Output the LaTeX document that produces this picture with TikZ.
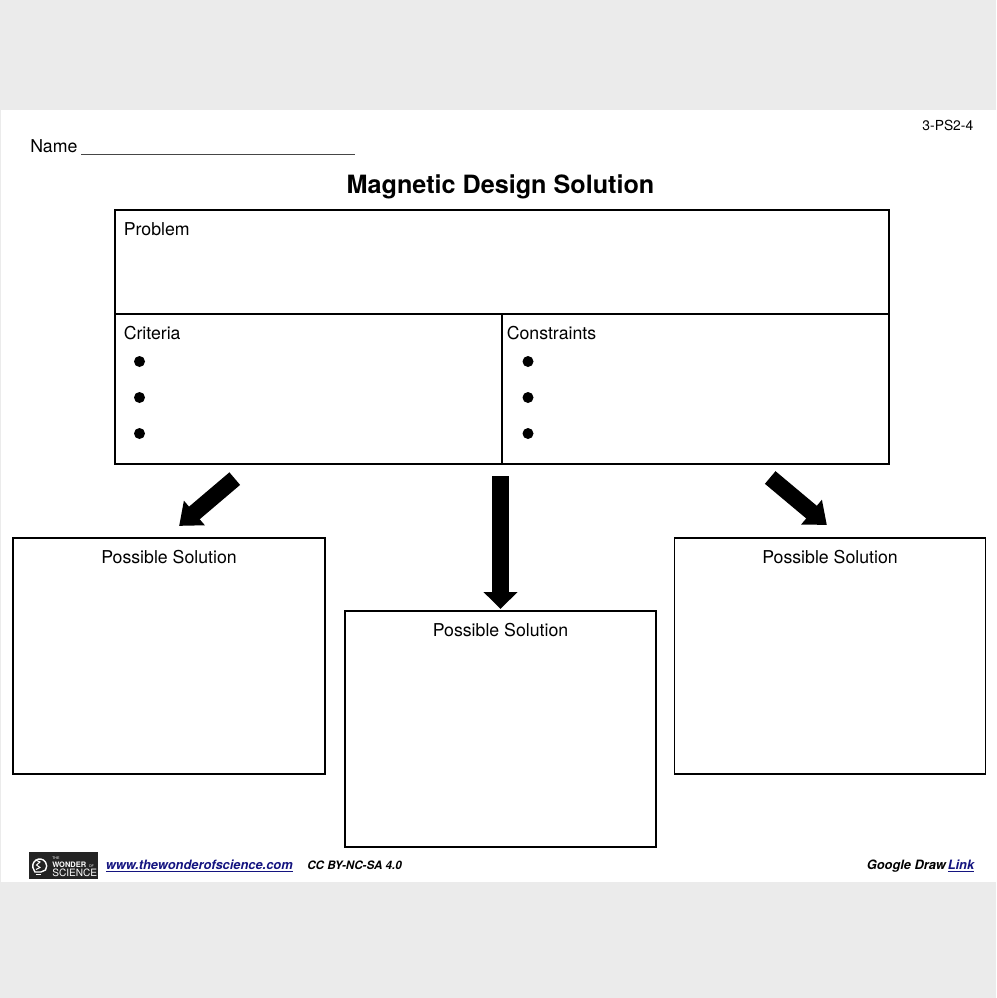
\documentclass[tikz,border=0pt]{standalone}
\usepackage{fontspec}
\setmainfont{TeX Gyre Heros}
\usepackage[svgnames,table]{xcolor}
\usepackage{tikz}
\usetikzlibrary{arrows.meta}
\definecolor{pagegray}{RGB}{235,235,235}
\definecolor{lineink}{RGB}{70,70,70}
\definecolor{linknavy}{rgb}{0.08,0.08,0.50}
\definecolor{logogray}{rgb}{0.14,0.14,0.14}
\tikzset{
  box/.style={shape=rectangle,draw=black,fill=white,line width=0.018in,inner sep=0pt,outer sep=0pt},
  bodytext/.style={inner sep=0pt,font=\fontsize{12.8}{15}\selectfont},
  foottext/.style={inner sep=0pt,anchor=base west,font=\fontsize{9.3}{11}\selectfont\bfseries\itshape},
  dotmark/.style={shape=circle,fill=black,minimum size=0.11in,inner sep=0pt},
  fatarrow/.style={line width=0.17in,-{Triangle[width=0.33in,length=0.17in]}},
  sidearrow/.style={line width=0.165in,-{Triangle[width=0.31in,length=0.20in]}},
  logotext/.style={inner sep=0pt,anchor=base west,text=white}
}

\begin{document}
\begin{tikzpicture}

\useasboundingbox (0in,0in) rectangle (9.96in,-9.98in);
\path[fill=pagegray] (0in,0in) rectangle (9.96in,-9.98in);
\path[fill=white] (0.01in,-1.10in) rectangle (9.96in,-8.82in);

% header
\path (9.735in,-1.30in) node (standardLabel) [inner sep=0pt,anchor=base east,font=\fontsize{10}{12}\selectfont]{3-PS2-4};
\path (0.30in,-1.52in) node (nameLabel) [bodytext,anchor=base west]{Name};
\path (5.005in,-1.93in) node (titleLabel) [inner sep=0pt,anchor=base,font=\fontsize{18.2}{22}\selectfont\bfseries]{Magnetic Design Solution};
\coordinate (nameStart) at (0.81in,-1.54in);
\coordinate (nameEnd) at (3.55in,-1.54in);
\draw [line width=0.009in,draw=lineink] (nameStart) -- (nameEnd);

% top table
\path (5.02in,-2.62in) node (problemBox) [box,minimum width=7.74in,minimum height=1.04in]{};
\path (3.085in,-3.89in) node (criteriaBox) [box,minimum width=3.87in,minimum height=1.50in]{};
\path (6.955in,-3.89in) node (constraintsBox) [box,minimum width=3.87in,minimum height=1.50in]{};
\path (1.235in,-2.35in) node (problemLabel) [bodytext,anchor=base west]{Problem};
\path (1.235in,-3.39in) node (criteriaLabel) [bodytext,anchor=base west]{Criteria};
\path (5.065in,-3.39in) node (constraintsLabel) [bodytext,anchor=base west]{Constraints};
\foreach \row/\ypos in {1/3.615,2/3.975,3/4.335}{
  \path (1.395in,-\ypos in) node (criteriaDot\row) [dotmark]{};
  \path (5.28in,-\ypos in) node (constraintsDot\row) [dotmark]{};
}

% solution boxes
\path (1.69in,-6.56in) node (solutionLeft) [box,minimum width=3.115in,minimum height=2.36in]{};
\path (5.005in,-7.29in) node (solutionMiddle) [box,minimum width=3.11in,minimum height=2.36in]{};
\path (8.30in,-6.56in) node (solutionRight) [box,minimum width=3.11in,minimum height=2.36in]{};
\path (1.69in,-5.63in) node (solutionLeftLabel) [bodytext,anchor=base]{Possible Solution};
\path (5.005in,-6.36in) node (solutionMiddleLabel) [bodytext,anchor=base]{Possible Solution};
\path (8.30in,-5.63in) node (solutionRightLabel) [bodytext,anchor=base]{Possible Solution};

% arrows
\draw [sidearrow,shorten <=0.226in,shorten >=0.187in] (criteriaBox.233.5) -- (solutionLeft.92.6);
\draw [fatarrow,shorten <=0.12in,shorten >=0.02in] (criteriaBox.south east -| solutionMiddle.north) -- (solutionMiddle.north);
\draw [sidearrow,shorten <=0.21in,shorten >=0.203in] (constraintsBox.-52.6) -- (solutionRight.84.4);

% footer
\path (0.635in,-8.655in) node (logoBox) [shape=rectangle,fill=logogray,minimum width=0.69in,minimum height=0.265in,inner sep=0pt]{};
\draw [white,line width=0.014in] (0.34in,-8.70in) arc (215:-35:0.07in) -- (0.41in,-8.72in) -- (0.35in,-8.72in) -- cycle;
\draw [white,line width=0.014in] (0.355in,-8.745in) -- (0.405in,-8.745in);
\draw [white,line width=0.01in] (0.355in,-8.60in) -- (0.40in,-8.62in) -- (0.365in,-8.65in) -- (0.40in,-8.675in) -- (0.36in,-8.695in);
\path (0.52in,-8.595in) node (logoThe) [logotext,font=\fontsize{2.6}{3}\selectfont]{THE};
\path (0.52in,-8.67in) node (logoWonder) [logotext,font=\fontsize{5.4}{6}\selectfont\bfseries]{WONDER};
\path (0.885in,-8.67in) node (logoOf) [logotext,font=\fontsize{2.6}{3}\selectfont]{OF};
\path (0.52in,-8.765in) node (logoScience) [logotext,font=\fontsize{7.3}{8}\selectfont]{SCIENCE};
\path (1.055in,-8.69in) node (siteLink) [foottext,text=linknavy]{\underline{www.thewonderofscience.com}};
\path (3.07in,-8.69in) node (licenseLabel) [foottext,font=\fontsize{8.4}{10}\selectfont\bfseries\itshape]{CC BY-NC-SA 4.0};
\path (8.665in,-8.69in) node (googleLabel) [foottext]{Google Draw};
\path (9.475in,-8.69in) node (googleLink) [foottext,text=linknavy]{\underline{Link}};

\end{tikzpicture}
\end{document}
